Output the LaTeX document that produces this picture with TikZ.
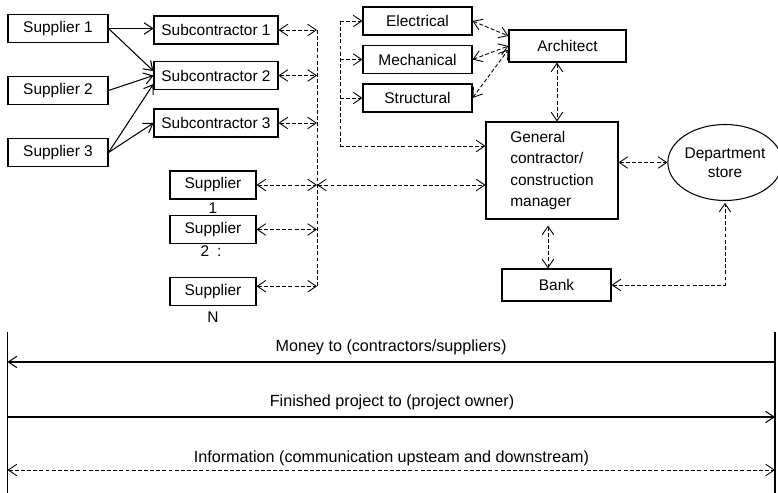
\documentclass[tikz,border=0pt]{standalone}
\usepackage{fontspec}
\setmainfont{Liberation Sans}
\usetikzlibrary{arrows.meta,shapes.geometric}

\begin{document}
\begin{tikzpicture}[x=0.02cm,y=-0.02cm,
    >={Straight Barb[length=1.7mm,width=2.3mm]},
    every node/.style={font=\fontsize{8.8}{10.6}\selectfont},
    box/.style={draw,line width=.6pt,inner sep=0pt,minimum height=.56cm},
    link/.style={->,line width=.6pt},
    flowtxt/.style={font=\fontsize{9.2}{11}\selectfont},
    dsh/.style={dash pattern=on 2.2pt off 1.3pt,line width=.5pt}]
    \useasboundingbox (0,0) rectangle (778,493);

    % suppliers and subcontractors
    \node[box,minimum width=2cm] (sup1) at (58,28.5) {Supplier 1};
    \node[box,minimum width=2cm] (sup2) at (58,90.5) {Supplier 2};
    \node[box,minimum width=2cm] (sup3) at (58,152.5) {Supplier 3};
    \node[box,minimum width=2.48cm] (sub1) at (216,30) {Subcontractor 1};
    \node[box,minimum width=2.48cm] (sub2) at (216,75.5) {Subcontractor 2};
    \node[box,minimum width=2.48cm] (sub3) at (216,123) {Subcontractor 3};
    \node[box,minimum width=1.72cm] (supA) at (213,185) {Supplier};
    \node[box,minimum width=1.72cm] (supB) at (213,229.5) {Supplier};
    \node[box,minimum width=1.72cm] (supN) at (213,291.5) {Supplier};
    \node (lab1) at (213,208) {1};
    \node (lab2) at (211,251) {2\enspace:};
    \node (labN) at (213,317) {N};

    % design and owner side
    \node[box,minimum width=2.18cm] (elec) at (417.5,21) {Electrical};
    \node[box,minimum width=2.18cm] (mech) at (417.5,59.5) {Mechanical};
    \node[box,minimum width=2.18cm] (struc) at (417.5,98) {Structural};
    \node[box,minimum width=2.34cm,minimum height=.64cm] (arch) at (567.5,46) {Architect};
    \node[box,minimum width=2.64cm,minimum height=1.94cm,align=left,
        font=\fontsize{8.8}{12}\selectfont] (gc) at (552,170.5)
        {General\\contractor/\\construction\\manager};
    \node[draw,ellipse,line width=.6pt,inner sep=0pt,minimum width=2cm,
        minimum height=1.52cm,align=center] (dept) at (725,162.5) {Department\\store};
    \node[box,minimum width=2.18cm,minimum height=.64cm] (bank) at (556.5,285) {Bank};

    \draw[link] (sup1.east) -- (sub1.west |- sup1.east);
    \draw[link] (sup1.east) -- ([yshift=2.5pt]sub2.west);
    \draw[link] (sup2.east) -- (sub2.west);
    \draw[link] (sup3.east) -- ([yshift=-4.8pt]sub2.west);
    \draw[link] (sup3.east) -- (sub3.west);

    % dashed bus
    \coordinate (bus) at (317,30);
    \coordinate (nA) at ([yshift=3pt]supN.east);
    \draw[dsh] (bus) -- (bus |- nA);
    \draw[dsh,<->] (sub1.east) -- (sub1.east -| bus);
    \draw[dsh,<->] (sub2.east) -- (sub2.east -| bus);
    \draw[dsh,<->] (sub3.east) -- (sub3.east -| bus);
    \draw[dsh,<->] (supA.east) -- (supA.east -| bus);
    \draw[dsh,<->] (supB.east) -- (supB.east -| bus);
    \draw[dsh,<->] (nA) -- (nA -| bus);
    \draw[dsh,<->] (supA.east -| bus) -- (gc.west |- supA.east);

    \coordinate (br) at (340,21);
    \coordinate (brb) at (340,146);
    \draw[dsh] (br) -- (brb);
    \draw[dsh,->] (br) -- (elec.west);
    \draw[dsh,->] (mech.west -| br) -- (mech.west);
    \draw[dsh,->] (struc.west -| br) -- (struc.west);
    \draw[dsh,->] (brb) -- (gc.west |- brb);

    \draw[dsh,<->] (elec.east) -- ([yshift=5.7pt]arch.west);
    \draw[dsh,<->] (mech.east) -- (arch.west);
    \draw[dsh,<->] (struc.east) -- ([yshift=-2pt]arch.west);
    \draw[dsh,<->] ([xshift=-6pt]arch.south) -- ([xshift=-6pt]arch.south |- gc.north);
    \draw[dsh,<->] (gc.east |- dept.west) -- (dept.west);
    \draw[dsh,<->,shorten <=3.4pt] ([xshift=-2.3pt]gc.south) -- ([xshift=-2.3pt]gc.south |- bank.north);
    \draw[dsh,<->] (bank.east) -| ([yshift=-1pt]dept.south);

    % flows
    \coordinate (lt) at (7.5,332);
    \coordinate (lb) at (7.5,493);
    \coordinate (rt) at (775,332);
    \coordinate (rb) at (775,493);
    \coordinate (money) at (0,362);
    \coordinate (proj) at (0,417);
    \coordinate (info) at (0,470);
    \draw[line width=.8pt] (lt) -- (lb);
    \draw[line width=.8pt] (rt) -- (rb);
    \draw[link] (rt |- money) -- (lt |- money);
    \draw[link] (lt |- proj) -- (rt |- proj);
    \draw[dsh,<->] (lt |- info) -- (rt |- info);
    \node[flowtxt] (moneytxt) at (391,347) {Money to (contractors/suppliers)};
    \node[flowtxt] (projtxt) at (392,402) {Finished project to (project owner)};
    \node[flowtxt] (infotxt) at (391.5,458) {Information (communication upsteam and downstream)};
\end{tikzpicture}
\end{document}
